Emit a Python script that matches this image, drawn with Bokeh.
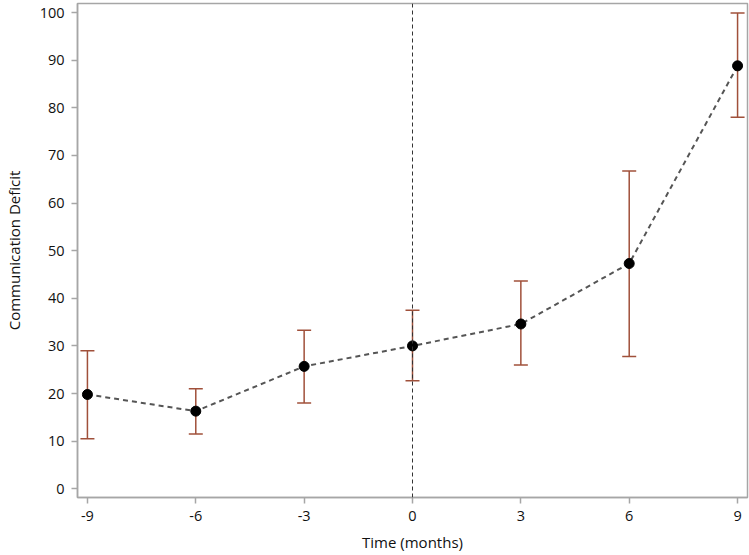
from bokeh.plotting import figure
from bokeh.models import ColumnDataSource, Whisker, TeeHead, Span, FixedTicker, Range1d
from bokeh.embed import file_html
from bokeh.resources import INLINE

months = [-9, -6, -3, 0, 3, 6, 9]
deficit = [19.8, 16.3, 25.7, 30.0, 34.6, 47.3, 88.8]
lower = [10.5, 11.5, 18.0, 22.7, 26.0, 27.8, 78.0]
upper = [29.0, 21.0, 33.3, 37.5, 43.6, 66.7, 99.9]
x_ticks = [-9, -6, -3, 0, 3, 6, 9]
x_tick_labels = ["-9", "-6", "-3", "0", "3", "6", "9"]
y_ticks = [0, 10, 20, 30, 40, 50, 60, 70, 80, 90, 100]

src = ColumnDataSource(dict(x=months, y=deficit, lo=lower, hi=upper))

FONT = "Open Sans"
GRAY = "#a6a6a6"
ERR = "#a0503a"

p = figure(width=749, height=555, output_backend="svg", toolbar_location=None,
           x_range=Range1d(-9.275, 9.275), y_range=Range1d(-1.83, 101.89),
           min_border_left=73, min_border_right=2, min_border_top=3, min_border_bottom=58)
p.xgrid.visible = False
p.ygrid.visible = False
p.outline_line_color = GRAY
p.outline_line_width = 1.5

for ax in (p.xaxis[0], p.yaxis[0]):
    ax.axis_line_color = GRAY
    ax.axis_line_width = 1.5
    ax.major_tick_line_color = GRAY
    ax.major_tick_line_width = 1.5
    ax.major_tick_out = 6
    ax.major_tick_in = 0
    ax.minor_tick_line_color = None
    ax.major_label_text_font = FONT
    ax.major_label_text_font_size = "14.5px"
    ax.major_label_text_color = "#111111"
    ax.axis_label_text_font = FONT
    ax.axis_label_text_font_size = "15px"
    ax.axis_label_text_font_style = "normal"
    ax.axis_label_text_color = "#111111"

p.xaxis.ticker = FixedTicker(ticks=x_ticks)
p.xaxis.major_label_overrides = {t: s for t, s in zip(x_ticks, x_tick_labels)}
p.yaxis.ticker = FixedTicker(ticks=y_ticks)
p.xaxis.axis_label = "Time (months)"
p.yaxis.axis_label = "Communication Deficit"
p.xaxis.major_label_standoff = 7
p.yaxis.major_label_standoff = 7
p.xaxis.axis_label_standoff = 8
p.yaxis.axis_label_standoff = 13

p.add_layout(Span(location=0, dimension="height", line_color="#333333",
                  line_dash="4 3", line_width=1))

w = Whisker(base="x", upper="hi", lower="lo", source=src, dimension="height",
            line_color=ERR, line_width=1.5,
            upper_head=TeeHead(size=14, line_color=ERR, line_width=1.5),
            lower_head=TeeHead(size=14, line_color=ERR, line_width=1.5))
p.add_layout(w)

p.line("x", "y", source=src, line_color="#555555", line_dash="5 4", line_width=2)
p.scatter("x", "y", source=src, size=10, fill_color="black", line_color="black")

open("out.html", "w").write(file_html(p, INLINE))
